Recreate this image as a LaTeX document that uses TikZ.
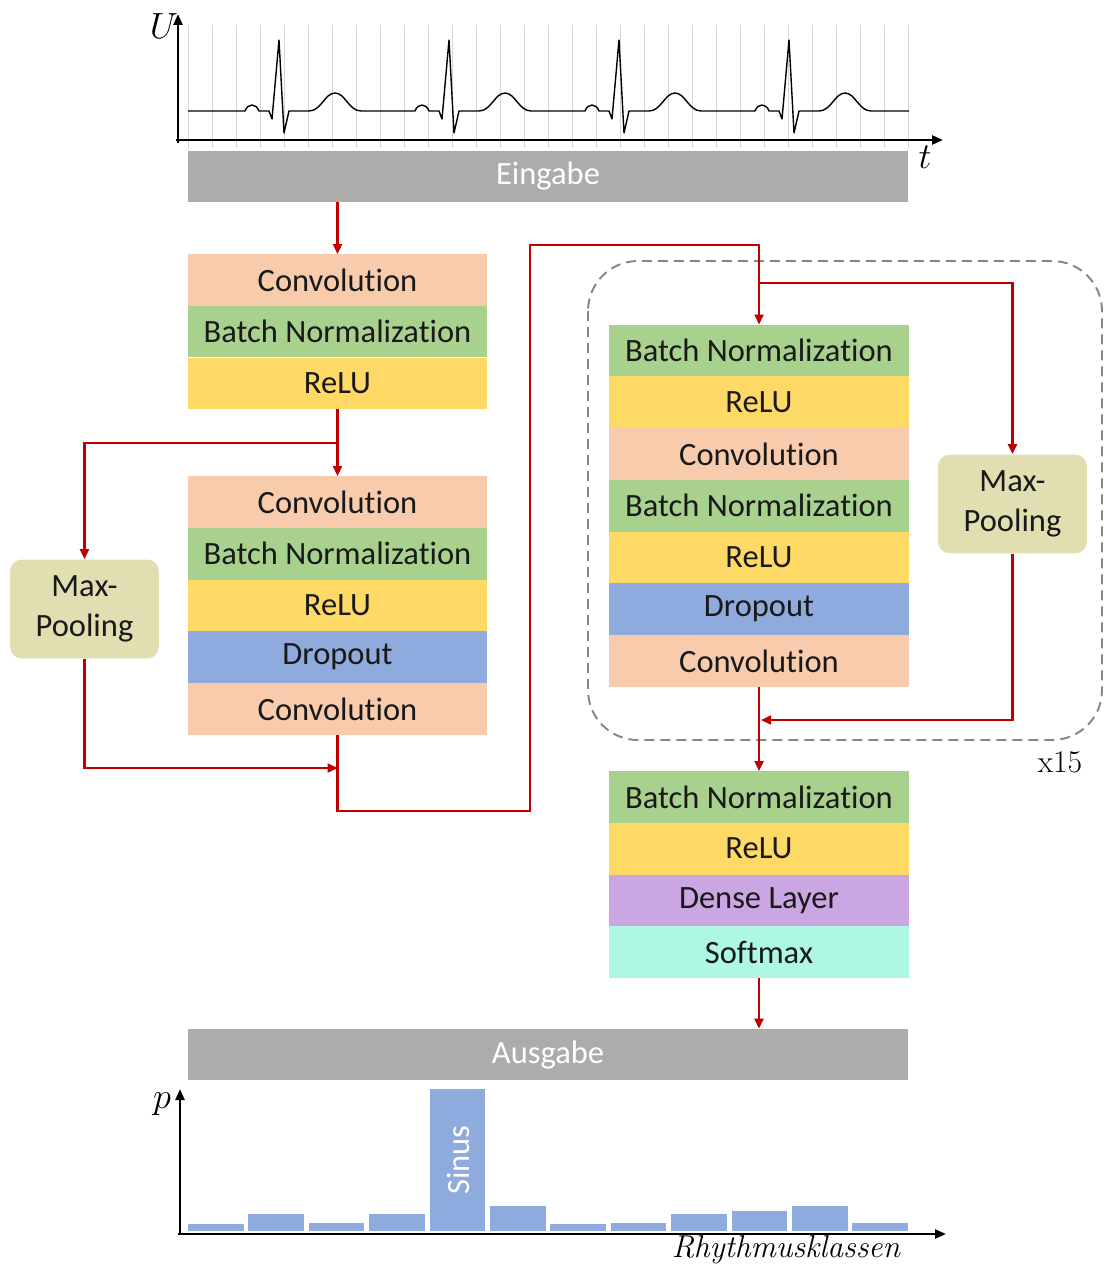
\documentclass[tikz,border=0pt]{standalone}
\usepackage{fontspec}
\newfontfamily\calibri[Ligatures=NoCommon]{Carlito}
\usetikzlibrary{arrows.meta,positioning}
\definecolor{convc}{HTML}{F8CBAD}
\definecolor{bnc}{HTML}{A9D18E}
\definecolor{reluc}{HTML}{FFD966}
\definecolor{dropc}{HTML}{8FAADC}
\definecolor{densec}{HTML}{CAA7E3}
\definecolor{softc}{HTML}{AEF8E3}
\definecolor{poolc}{HTML}{E1DFB2}
\definecolor{ioc}{HTML}{AEABAB}
\definecolor{redc}{HTML}{C00000}
\definecolor{gridc}{HTML}{D6D6D6}
\tikzset{
  layer/.style={minimum width=6cm, minimum height=1.035cm, inner sep=0pt, outer sep=0pt,
    text=black!90, font=\calibri\fontsize{18.5}{22}\selectfont},
  pool/.style={fill=poolc, rounded corners=0.24cm, minimum width=2.98cm, minimum height=1.98cm,
    inner sep=0pt, align=center, text=black!90, font=\calibri\fontsize{18.5}{22.7}\selectfont},
  io/.style={fill=ioc, minimum width=14.4cm, minimum height=1.02cm, inner sep=0pt,
    text=white, font=\calibri\fontsize{18.5}{22}\selectfont},
  link/.style={draw=redc, line width=1.3pt},
  flow/.style={link, -{Triangle[length=0.2cm,width=0.18cm]}},
  axis/.style={line width=1.4pt, -{Triangle[length=0.22cm,width=0.18cm]}}
}
\begin{document}
\begin{tikzpicture}[x=0.02cm, y=-0.02cm]
  \useasboundingbox (0,0) rectangle (1103,1264);
  % ECG input
  \foreach \gx in {0,...,30}
    \draw[gridc, line width=0.5pt] ({188+24*\gx},25) -- ({188+24*\gx},148);
  \draw[line width=0.8pt, line join=round] (188,111)
    \foreach \r in {279,449,619,789} {
      -- (\r-34,111) .. controls (\r-31,103) and (\r-23,103) .. (\r-20,111)
      -- (\r-10,111) -- (\r-7,119) -- (\r,40) -- (\r+5,133) -- (\r+10,111) -- (\r+30,111)
      .. controls (\r+42,111) and (\r+46,93) .. (\r+56,93)
      .. controls (\r+66,93) and (\r+70,111) .. (\r+82,111)
    } -- (909,111);
  \draw[axis] (178,143) -- (178,14);
  \draw[axis] (176,140) -- (943,140);
  \node[font=\fontsize{21}{24}\selectfont] (ulab) at (164,26) {$U$};
  \node[font=\fontsize{21}{24}\selectfont] (tlab) at (925,157) {$t$};
  \node[io] (ein) at (548,176.5) {Eingabe};
  % first block
  \foreach \txt/\col [count=\i] in {Convolution/convc,Batch Normalization/bnc,ReLU/reluc}
    \node[layer, fill=\col] (a\i) at (337.5,254+51.75*\i-25.875) {\txt};
  % residual block
  \foreach \txt/\col [count=\i] in {Convolution/convc,Batch Normalization/bnc,ReLU/reluc,Dropout/dropc,Convolution/convc}
    \node[layer, fill=\col] (b\i) at (337.5,476+51.75*\i-25.875) {\txt};
  \node[pool] (mp1) at (84.5,609) {Max-\\Pooling};
  % repeated block
  \draw[gray!95, line width=1.1pt, dash pattern=on 0.2cm off 0.12cm, rounded corners=1cm]
    (588,261) rectangle (1102,740);
  \node[font=\fontsize{18}{22}\selectfont] (rep) at (1060,762) {x15};
  \foreach \txt/\col [count=\i] in {Batch Normalization/bnc,ReLU/reluc,Convolution/convc,Batch Normalization/bnc,ReLU/reluc,Dropout/dropc,Convolution/convc}
    \node[layer, fill=\col] (c\i) at (759,324.5+51.75*\i-25.875) {\txt};
  \node[pool] (mp2) at (1012.5,504) {Max-\\Pooling};
  % output block
  \foreach \txt/\col [count=\i] in {Batch Normalization/bnc,ReLU/reluc,Dense Layer/densec,Softmax/softc}
    \node[layer, fill=\col] (d\i) at (759,771+51.75*\i-25.875) {\txt};
  \node[io] (aus) at (548,1054.5) {Ausgabe};
  % connections
  \coordinate (s1) at (337.5,443);
  \coordinate (j1) at (337.5,768);
  \coordinate (k1) at (337.5,811);
  \coordinate (k2) at (530,245);
  \coordinate (s2) at (759,283);
  \coordinate (j2) at (761,720);
  \draw[flow] (a1.north |- ein.south) -- (a1.north);
  \draw[flow] (a3.south) -- (b1.north);
  \draw[flow] (s1) -| (mp1.north);
  \draw[flow] (mp1.south) |- (j1);
  \draw[flow] (b5.south) -- (k1) -| (k2) -| (c1.north);
  \draw[flow] (s2) -| (mp2.north);
  \draw[flow] (mp2.south) |- (j2);
  \draw[flow] (c7.south) -- (d1.north);
  \draw[flow] (d4.south) -- (d4.south |- aus.north);
  % class probabilities
  \foreach \h [count=\i] in {7,17,8.3,17,142,25.3,7,8.3,17,19.7,25.3,8.3}
    \fill[dropc] ({188+60.4*(\i-1)},1231) rectangle ++(55.5,-\h);
  \node[rotate=90, text=white, font=\calibri\fontsize{18.5}{22}\selectfont] (sinus) at (458.5,1160) {Sinus};
  \draw[axis] (180,1235) -- (180,1089);
  \draw[axis] (178,1234) -- (946,1234);
  \node[font=\fontsize{21}{24}\selectfont] (plab) at (162,1104) {$p$};
  \node[font=\fontsize{18}{22}\selectfont, anchor=east] (klab) at (907,1250) {\textit{Rhythmusklassen}};
\end{tikzpicture}
\end{document}
